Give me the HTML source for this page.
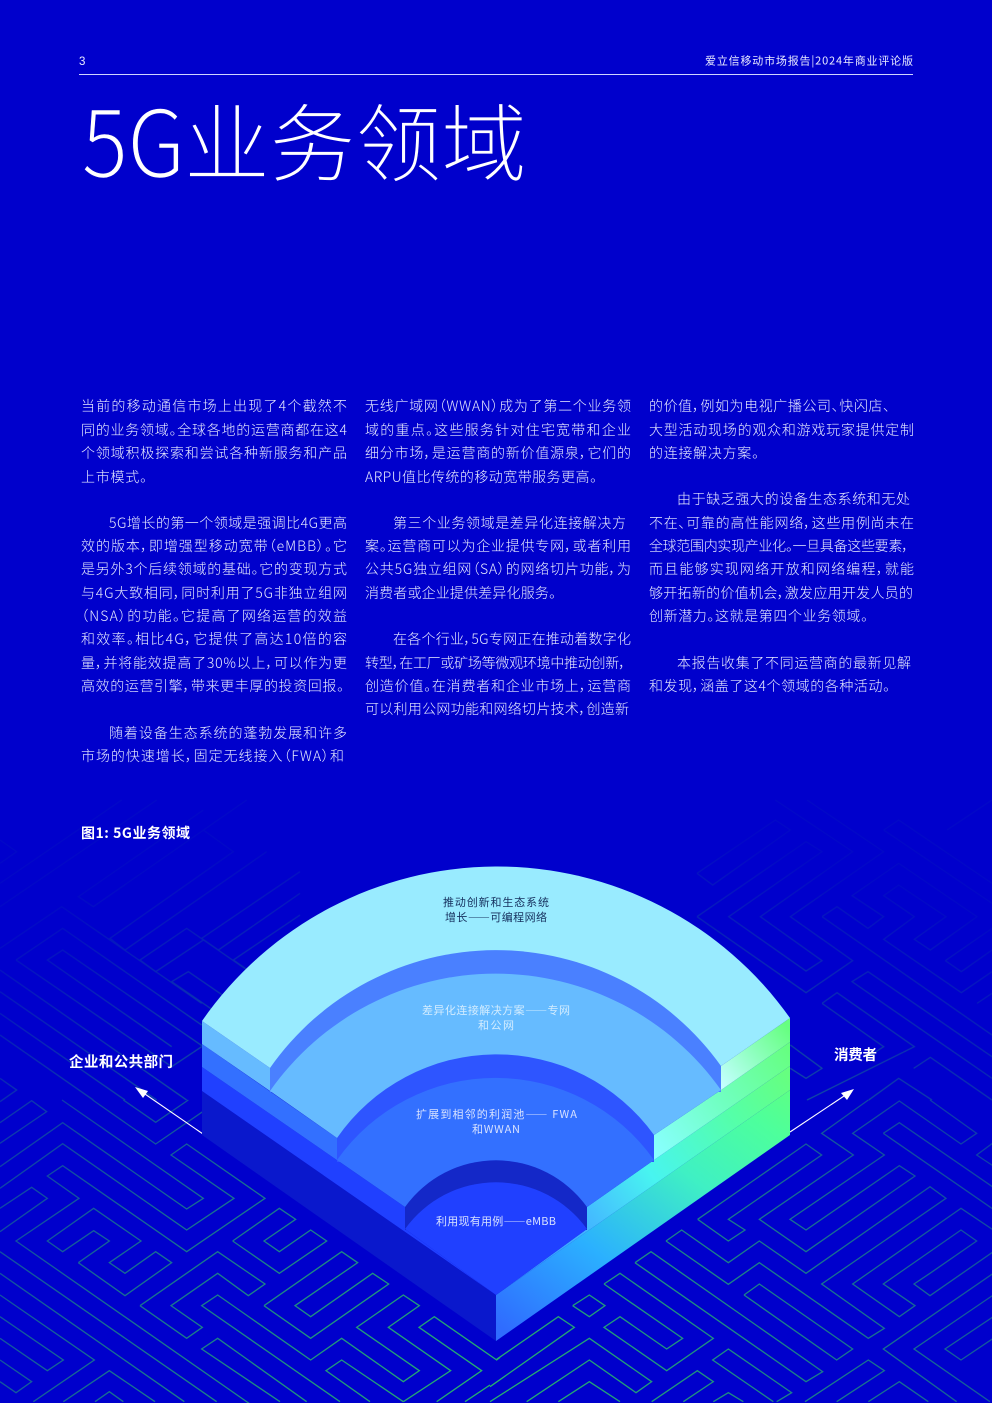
<!DOCTYPE html>
<html lang="zh">
<head>
<meta charset="utf-8">
<style>
html,body{margin:0;padding:0;background:#0000cc;}
svg{display:block;}
text{font-family:"Liberation Sans","Noto Sans CJK SC",sans-serif;}
.cj{font-family:"Noto Sans CJK SC","Liberation Sans",sans-serif;}
.b text{font-family:"Noto Sans CJK SC","Liberation Sans",sans-serif;font-size:14px;fill:#e8ebff;font-weight:300;font-feature-settings:"palt";}
.m polyline{fill:none;stroke:#27b56c;stroke-width:3.9;stroke-linejoin:miter;}
.l text{font-family:"Noto Sans CJK SC","Liberation Sans",sans-serif;font-size:11px;}
</style>
</head>
<body>
<svg xmlns="http://www.w3.org/2000/svg" width="992" height="1403" viewBox="0 0 992 1403">
<defs>
<radialGradient id="fade" gradientUnits="userSpaceOnUse" cx="0" cy="0" r="1" gradientTransform="translate(496,1380) scale(850,560)">
<stop offset="0" stop-color="#fff"/>
<stop offset=".2" stop-color="#d8d8d8"/>
<stop offset=".5" stop-color="#949494"/>
<stop offset=".8" stop-color="#3c3c3c"/>
<stop offset="1" stop-color="#0c0c0c"/>
</radialGradient>
<mask id="mk" maskUnits="userSpaceOnUse" x="0" y="780" width="992" height="623"><rect x="0" y="780" width="992" height="623" fill="url(#fade)"/></mask>
<linearGradient id="r0" gradientUnits="userSpaceOnUse" x1="530" y1="1350" x2="770" y2="1040">
<stop offset="0" stop-color="#2f6cff"/>
<stop offset=".3" stop-color="#2bb0ff"/>
<stop offset=".6" stop-color="#3ff0c4"/>
<stop offset=".82" stop-color="#4dff9c"/>
<stop offset="1" stop-color="#66ff77"/>
</linearGradient>
<linearGradient id="r1" gradientUnits="userSpaceOnUse" x1="520" y1="1280" x2="790" y2="1080">
<stop offset="0" stop-color="#2f8cff"/>
<stop offset=".28" stop-color="#44bcff"/>
<stop offset=".5" stop-color="#48f4f0"/>
<stop offset=".8" stop-color="#55ffa8"/>
<stop offset="1" stop-color="#66ff80"/>
</linearGradient>
<linearGradient id="r2" gradientUnits="userSpaceOnUse" x1="654" y1="1150" x2="790" y2="1050">
<stop offset="0" stop-color="#88ffff"/>
<stop offset=".5" stop-color="#70ffc0"/>
<stop offset="1" stop-color="#66ff80"/>
</linearGradient>
<linearGradient id="r3" gradientUnits="userSpaceOnUse" x1="722" y1="1085" x2="790" y2="1030">
<stop offset="0" stop-color="#c4ffff"/>
<stop offset=".5" stop-color="#8fffc0"/>
<stop offset="1" stop-color="#66ff80"/>
</linearGradient>
</defs>

<rect width="992" height="1403" fill="#0000cc"/>

<!-- maze background -->
<g mask="url(#mk)" class="m">
<g transform="translate(0,1100) scale(.33333)">
<polyline points="0,68 95,2 140,35 0,130"/>
<polyline points="0,200 188,68 560,327 610,295 186,0"/>
<polyline points="0,265 188,131 560,390 702,295 513,165 560,132 795,295 560,455 188,197 142,228 237,295 48,423 750,912"/>
<polyline points="278,0 467,132 608,35"/>
<polyline points="370,0 467,67 565,0"/>
<polyline points="235,488 375,587 515,488 467,455 375,520 328,488 423,423 281,325 142,423 188,455 281,392 328,423 235,488"/>
<polyline points="0,325 95,262 142,295 0,395"/>
<polyline points="698,423 838,325 887,358 792,423 838,455 932,390 980,423 838,520 698,423"/>
<polyline points="792,617 1025,455 1073,488 885,617 932,650 1118,520 1166,552 932,715 792,617"/>
<polyline points="420,617 653,455 795,552 745,587 653,520 513,617 607,682 560,715 420,617"/>
<polyline points="1210,905 1352,812 1165,682 1258,617 1210,585 1070,682 1258,812 1210,845 1025,715 932,780 653,585 605,617 1020,905"/>
<polyline points="1310,905 1445,812 1257,682 1303,650 1490,780 1500,772"/>
<polyline points="840,905 605,747 653,715 920,905"/>
<polyline points="1110,905 978,812 1025,780 1210,905"/>
<polyline points="1395,905 1470,855"/>
<polyline points="0,455 650,905"/>
<polyline points="0,520 553,905"/>
<polyline points="0,585 283,780 100,905"/>
<polyline points="0,650 190,780 142,812 0,715"/>
<polyline points="0,780 95,845 48,878 0,845"/>
<polyline points="190,905 328,812 465,905"/>
<polyline points="285,905 328,875 370,905"/>
</g>
<g transform="translate(490,1100) scale(.33333)">
<polyline points="623,358 948,132 995,165 715,358 765,390 715,423 623,358"/>
<polyline points="528,423 575,390 715,488 808,423 948,520 1320,260 1368,295 995,552 1183,685 1135,715 808,488 715,553 528,423"/>
<polyline points="1135,0 995,100 1090,165 808,358 948,455 1275,228 1228,197 948,390 900,358 1183,165 1088,100 1228,3 1413,132 1460,100 1320,0"/>
<polyline points="1180,100 1228,68 1510,262"/>
<polyline points="1180,100 1510,328"/>
<polyline points="1510,128 1460,165 1510,198"/>
<polyline points="1510,390 1413,325 1088,552 1228,650 1275,617 1180,552 1413,390 1460,423 1320,520 1272,552 1320,587 1510,455"/>
<polyline points="762,585 808,552 1088,747 1040,780 762,585"/>
<polyline points="435,488 483,455 998,815 948,845 435,488"/>
<polyline points="342,552 578,715 530,747 390,650 342,682 530,812 670,715 390,520 342,552"/>
<polyline points="248,617 298,585 345,617 298,650 248,617"/>
<polyline points="20,778 205,650 253,682 0,860"/>
<polyline points="0,905 298,715 485,845 438,878 298,780 110,905"/>
<polyline points="205,905 298,845 390,905"/>
<polyline points="485,905 622,812 670,845 580,905"/>
<polyline points="850,905 668,780 715,747 905,878 860,905"/>
<polyline points="670,905 715,878 760,905"/>
<polyline points="945,905 1135,780 1183,812 1040,905"/>
<polyline points="1135,905 1228,845 1315,905"/>
<polyline points="1510,520 1180,747 1400,905"/>
<polyline points="1510,585 1272,747 1500,905"/>
<polyline points="1510,650 1365,747 1413,780 1510,715"/>
</g>
<g transform="translate(0,800) scale(.33333)">
<polyline points="0,445 185,320 605,610"/>
<polyline points="740,0 280,320 235,290 610,30"/>
<polyline points="610,90 700,155 330,415 375,450 800,155"/>
<polyline points="610,740 188,450 142,480 515,740"/>
<polyline points="900,620 560,385 420,480 467,515 610,420"/>
<polyline points="48,480 188,385 605,675"/>
<polyline points="48,480 515,800 605,740"/>
<polyline points="0,510 560,900"/>
<polyline points="0,575 470,900"/>
<polyline points="0,640 375,900"/>
<polyline points="0,705 280,900"/>
<polyline points="900,745 565,515 515,545 900,810"/>
<polyline points="900,280 655,450 605,415 900,215"/>
<polyline points="900,345 700,480 900,620"/>
<polyline points="0,835 50,870 0,905"/>
<polyline points="0,320 470,0"/>
<polyline points="0,250 365,0"/>
<polyline points="0,120 50,155 0,190"/>
</g>
<g transform="translate(692,800) scale(.33333)">
<polyline points="15,220 62,255 295,90 250,60 15,220"/>
<polyline points="15,350 342,125 390,155 110,350 342,513 390,482 205,350 482,155 250,0"/>
<polyline points="15,350 342,578 482,482 295,350 575,155 345,0"/>
<polyline points="390,350 435,320 528,385 575,350 480,287 620,190 855,350 715,450 667,418 762,350 620,255 575,287 667,350 575,418 808,578 900,515"/>
<polyline points="390,350 900,705"/>
<polyline points="900,770 528,515 480,545 900,835"/>
<polyline points="390,610 435,578 667,740 345,900"/>
<polyline points="390,610 575,740 528,770"/>
<polyline points="295,735 390,805 342,835 295,805"/>
<polyline points="530,900 620,835 720,900"/>
<polyline points="665,805 715,772 900,900"/>
<polyline points="760,482 900,385"/>
<polyline points="760,482 808,515 900,450"/>
<polyline points="855,610 900,580"/>
<polyline points="575,90 620,60 900,250"/>
<polyline points="575,90 900,310"/>
<polyline points="765,90 900,0"/>
</g>
</g>

<!-- page header -->
<text x="79" y="65" font-size="11.5" fill="#e8eaff">3</text>
<text x="705" y="64.500" font-size="11" fill="#e8eaff" textLength="208" class="cj">爱立信移动市场报告|2024年商业评论版</text>
<rect x="79" y="74" width="834" height="1" fill="#d0d4ff"/>

<!-- title -->
<text x="82" y="177" font-size="92" fill="#fff" textLength="103" lengthAdjust="spacingAndGlyphs" font-weight="300" class="cj" stroke="#0000cc" stroke-width=".6">5G</text>
<text x="184" y="175" font-size="85" fill="#fff" textLength="343" lengthAdjust="spacingAndGlyphs" font-weight="300" class="cj" stroke="#0000cc" stroke-width=".8">业务领域</text>

<!-- body -->
<g class="b">
<text x="81" y="411" textLength="266">当前的移动通信市场上出现了4个截然不</text>
<text x="81" y="435" textLength="266">同的业务领域。全球各地的运营商都在这4</text>
<text x="81" y="458" textLength="266">个领域积极探索和尝试各种新服务和产品</text>
<text x="81" y="482" textLength="66">上市模式。</text>
<text x="109" y="528" textLength="238">5G增长的第一个领域是强调比4G更高</text>
<text x="81" y="551" textLength="266">效的版本，即增强型移动宽带（eMBB）。它</text>
<text x="81" y="574" textLength="266">是另外3个后续领域的基础。它的变现方式</text>
<text x="81" y="598" textLength="266">与4G大致相同，同时利用了5G非独立组网</text>
<text x="81" y="621" textLength="266">（NSA）的功能。它提高了网络运营的效益</text>
<text x="81" y="644" textLength="266">和效率。相比4G，它提供了高达10倍的容</text>
<text x="81" y="668" textLength="266">量，并将能效提高了30%以上，可以作为更</text>
<text x="81" y="691" textLength="263">高效的运营引擎，带来更丰厚的投资回报。</text>
<text x="109" y="738" textLength="238">随着设备生态系统的蓬勃发展和许多</text>
<text x="81" y="761" textLength="263">市场的快速增长，固定无线接入（FWA）和</text>

<text x="365" y="411" textLength="266">无线广域网（WWAN）成为了第二个业务领</text>
<text x="365" y="435" textLength="266">域的重点。这些服务针对住宅宽带和企业</text>
<text x="365" y="458" textLength="266">细分市场，是运营商的新价值源泉，它们的</text>
<text x="365" y="482" textLength="232">ARPU值比传统的移动宽带服务更高。</text>
<text x="393" y="528" textLength="233">第三个业务领域是差异化连接解决方</text>
<text x="365" y="551" textLength="266">案。运营商可以为企业提供专网，或者利用</text>
<text x="365" y="574" textLength="266">公共5G独立组网（SA）的网络切片功能，为</text>
<text x="365" y="598" textLength="191">消费者或企业提供差异化服务。</text>
<text x="393" y="644" textLength="238">在各个行业，5G专网正在推动着数字化</text>
<text x="365" y="668" textLength="261">转型，在工厂或矿场等微观环境中推动创新，</text>
<text x="365" y="691" textLength="266">创造价值。在消费者和企业市场上，运营商</text>
<text x="365" y="714" textLength="264">可以利用公网功能和网络切片技术，创造新</text>

<text x="649" y="411" textLength="241">的价值，例如为电视广播公司、快闪店、</text>
<text x="649" y="435" textLength="265">大型活动现场的观众和游戏玩家提供定制</text>
<text x="649" y="458" textLength="110">的连接解决方案。</text>
<text x="677" y="504" textLength="233">由于缺乏强大的设备生态系统和无处</text>
<text x="649" y="528" textLength="265">不在、可靠的高性能网络，这些用例尚未在</text>
<text x="649" y="551" textLength="260">全球范围内实现产业化。一旦具备这些要素，</text>
<text x="649" y="574" textLength="265">而且能够实现网络开放和网络编程，就能</text>
<text x="649" y="598" textLength="264">够开拓新的价值机会，激发应用开发人员的</text>
<text x="649" y="621" textLength="219">创新潜力。这就是第四个业务领域。</text>
<text x="677" y="668" textLength="234">本报告收集了不同运营商的最新见解</text>
<text x="649" y="691" textLength="241">和发现，涵盖了这4个领域的各种活动。</text>
</g>

<text x="81" y="838" font-size="14" font-weight="700" fill="#fff" textLength="109" class="cj">图1: 5G业务领域</text>
<text x="69" y="1067" font-size="14.500" font-weight="700" fill="#fff" textLength="104" class="cj">企业和公共部门</text>
<text x="834" y="1060" font-size="14.500" font-weight="700" fill="#fff" textLength="43" class="cj">消费者</text>

<!-- arrows -->
<line x1="203" y1="1134" x2="142" y2="1092" stroke="#fff" stroke-width="1.1"/>
<polygon points="135,1087 148,1091 143,1098" fill="#fff"/>
<line x1="790" y1="1132" x2="847" y2="1094" stroke="#fff" stroke-width="1.1"/>
<polygon points="854,1089 847,1100 841,1093" fill="#fff"/>

<!-- fan diagram -->
<!-- base dark left face -->
<polygon points="202,1091 496,1295 496,1341 202,1135" fill="#0a18cc"/>
<!-- right faces -->
<polygon points="496,1295 790,1090 790,1135 496,1341" fill="url(#r0)"/>
<polygon points="587,1207 654,1160 790,1066 790,1090 496,1295 587,1229" fill="url(#r1)"/>
<polygon points="654,1135 721,1090 790,1042 790,1066 654,1160" fill="url(#r2)"/>
<polygon points="721,1066 790,1018 790,1042 721,1090" fill="url(#r3)"/>
<!-- left faces -->
<polygon points="202,1067 405,1207 405,1229 496,1295 202,1091" fill="#2040ff"/>
<polygon points="202,1044 337,1138 337,1160 405,1207 202,1067" fill="#3370ff"/>
<polygon points="202,1021 270,1068 270,1091 202,1044" fill="#66bbff"/>
<!-- top layer -->
<path d="M202,1021 A359,359 0 0 1 790,1018 L721,1066 L721,1091 L270,1091 L270,1068 Z" fill="#99ebff"/>
<!-- step 1 -->
<path d="M270,1068 A276,276 0 0 1 721,1066 L721,1092 L270,1092 Z" fill="#4a80ff"/>
<!-- layer 2 -->
<path d="M270,1091 A276,276 0 0 1 721,1090 L654,1135 L654,1160 L337,1160 L337,1138 Z" fill="#66bbff"/>
<!-- step 2 -->
<path d="M337,1138 A194,194 0 0 1 654,1135 L654,1162 L337,1162 Z" fill="#2e55ff"/>
<!-- layer 3 -->
<path d="M337,1160 A194,194 0 0 1 654,1160 L587,1207 L587,1229 L405,1229 L405,1207 Z" fill="#3370ff"/>
<!-- step 3 -->
<path d="M405,1207 A112,112 0 0 1 587,1207 L587,1230 L405,1230 Z" fill="#1428c8"/>
<!-- layer 4 -->
<path d="M405,1229 A112,112 0 0 1 587,1229 L496,1295 Z" fill="#2040ff"/>

<!-- fan labels -->
<g class="l">
<text x="443" y="906" fill="#16305e" textLength="106">推动创新和生态系统</text>
<text x="445" y="921" fill="#16305e" textLength="102">增长——可编程网络</text>
<text x="422" y="1014" fill="#d2ecff" textLength="148">差异化连接解决方案——专网</text>
<text x="478" y="1029" fill="#d2ecff" textLength="36">和公网</text>
<text x="416" y="1118" fill="#d8e2ff" textLength="161">扩展到相邻的利润池—— FWA</text>
<text x="472" y="1133" fill="#d8e2ff" textLength="48">和WWAN</text>
<text x="436" y="1225" fill="#d8e2ff" textLength="120">利用现有用例——eMBB</text>
</g>
</svg>
</body>
</html>
